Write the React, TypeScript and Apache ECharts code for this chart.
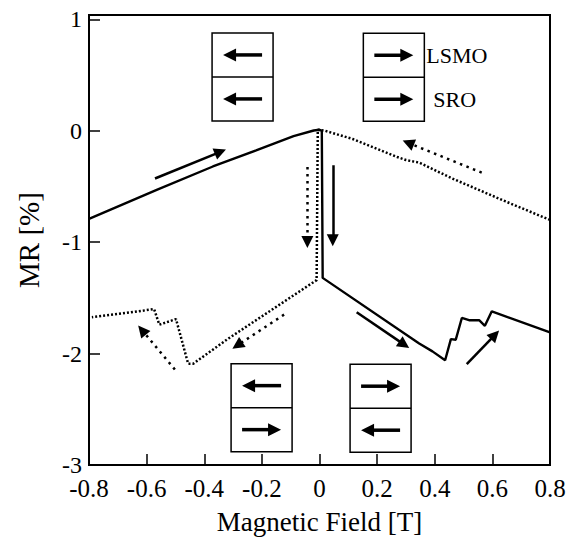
import React, { useEffect, useRef } from "react";
import * as echarts from "echarts";

// Field sweep from -0.8 T to +0.8 T (solid curve): [field T, MR %]
const solidSweep: [number, number][] = [
  [-0.8, -0.79], [-0.565, -0.53], [-0.37, -0.32], [-0.22, -0.175], [-0.09, -0.047],
  [-0.02, 0.003], [0.0, 0.01], [0.008, 0.0], [0.011, -1.32], [0.346, -1.91],
  [0.392, -1.98], [0.436, -2.06], [0.456, -1.87], [0.473, -1.875], [0.494, -1.68],
  [0.519, -1.7], [0.554, -1.7], [0.574, -1.75], [0.598, -1.62], [0.8, -1.81],
];

// Field sweep from +0.8 T to -0.8 T (dotted curve)
const dottedSweep: [number, number][] = [
  [0.8, -0.8], [0.646, -0.634], [0.46, -0.427], [0.346, -0.285], [0.3, -0.262],
  [0.27, -0.235], [0.115, -0.073], [0.02, 0.0], [-0.006, 0.01], [-0.01, -1.34],
  [-0.317, -1.866], [-0.438, -2.09], [-0.456, -2.09], [-0.498, -1.69], [-0.556, -1.74],
  [-0.574, -1.6], [-0.657, -1.63], [-0.79, -1.673],
];

// Sweep-direction arrows: [x0, y0, x1, y1]
const solidArrows: number[][] = [
  [-0.571, -0.428, -0.344, -0.188],
  [0.046, -0.31, 0.046, -0.982],
  [0.129, -1.629, 0.294, -1.919],
  [0.511, -2.095, 0.609, -1.831],
];
const dottedArrows: number[][] = [
  [0.563, -0.375, 0.308, -0.108],
  [-0.042, -0.324, -0.042, -0.997],
  [-0.123, -1.65, -0.285, -1.926],
  [-0.502, -2.143, -0.616, -1.789],
];

// Magnetization configuration boxes: centre, LSMO (top) and SRO (bottom) directions
const boxCenters: [number, number][] = [
  [-0.267, 0.484], [0.258, 0.481], [-0.201, -2.485], [0.212, -2.49],
];
const lsmoDir = [-1, 1, -1, 1];
const sroDir = [-1, 1, 1, -1];
const layerLabels = ["LSMO", "SRO"];
const labelBoxIndex = 1;

const FONT = "Times New Roman, Liberation Serif, DejaVu Serif, serif";

export default function App() {
  const ref = useRef<HTMLDivElement>(null);
  useEffect(() => {
    if (!ref.current) return;
    const chart = echarts.init(ref.current, undefined, { renderer: "svg" });
    const axisCommon = {
      type: "value" as const,
      axisLine: { show: true, onZero: false, lineStyle: { color: "#000", width: 2 } },
      axisTick: { show: true, inside: true, length: 11, lineStyle: { color: "#000", width: 1.5 } },
      splitLine: { show: false },
      nameLocation: "middle" as const,
    };
    chart.setOption({
      animation: false,
      backgroundColor: "#fff",
      textStyle: { fontFamily: FONT },
      grid: { left: 89, right: 25, top: 15, bottom: 71, show: true, borderColor: "#000", borderWidth: 2 },
      xAxis: {
        ...axisCommon,
        min: -0.8, max: 0.8, interval: 0.2,
        name: "Magnetic Field [T]", nameGap: 43,
        nameTextStyle: { color: "#000", fontSize: 27, fontFamily: FONT },
        axisLabel: { color: "#000", fontSize: 25, fontFamily: FONT, margin: 11 },
      },
      yAxis: {
        ...axisCommon,
        min: -3, max: 1.04, interval: 1,
        name: "MR [%]", nameGap: 46,
        nameTextStyle: { color: "#000", fontSize: 29, fontFamily: FONT },
        axisLabel: {
          color: "#000", fontSize: 24, fontFamily: FONT, margin: 7,
          formatter: (v: number) => (Math.abs(v - Math.round(v)) < 1e-6 ? String(Math.round(v)) : ""),
        },
      },
      series: [
        {
          type: "line", data: solidSweep, symbol: "none", silent: true,
          lineStyle: { color: "#000", width: 2.4 }, z: 3,
        },
        {
          type: "line", data: dottedSweep, symbol: "none", silent: true,
          lineStyle: { color: "#000", width: 2.5, type: [2, 2] }, z: 3,
        },
        {
          type: "lines", coordinateSystem: "cartesian2d", silent: true,
          data: solidArrows.map((a) => ({ coords: [[a[0], a[1]], [a[2], a[3]]] })),
          symbol: ["none", "triangle"], symbolSize: 12,
          itemStyle: { color: "#000" },
          lineStyle: { color: "#000", width: 2.5, type: "solid", opacity: 1, curveness: 0 },
          z: 4,
        },
        {
          type: "lines", coordinateSystem: "cartesian2d", silent: true,
          data: dottedArrows.map((a) => ({ coords: [[a[0], a[1]], [a[2], a[3]]] })),
          symbol: ["none", "triangle"], symbolSize: 12,
          itemStyle: { color: "#000" },
          lineStyle: { color: "#000", width: 2.5, type: [2.5, 4.5], opacity: 1, curveness: 0 },
          z: 4,
        },
      ],
    });

    const W = 61, H = 88;
    const arrowEls = (dir: number, cy: number) => {
      const tip = dir * 19.5;
      const base = tip - dir * 13;
      const tail = -dir * 19.5;
      return [
        { type: "line", shape: { x1: tail, y1: cy, x2: base + dir * 1, y2: cy }, style: { stroke: "#000", lineWidth: 3.5 } },
        { type: "polygon", shape: { points: [[tip, cy], [base, cy - 6.5], [base, cy + 6.5]] }, style: { fill: "#000" } },
      ];
    };
    const graphics: any[] = boxCenters.map((c, i) => {
      const p = chart.convertToPixel({ gridIndex: 0 }, c) as number[];
      const children: any[] = [
        { type: "rect", shape: { x: -W / 2, y: -H / 2, width: W, height: H }, style: { fill: "#fff", stroke: "#000", lineWidth: 1.5 } },
        { type: "line", shape: { x1: -W / 2, y1: 0, x2: W / 2, y2: 0 }, style: { stroke: "#000", lineWidth: 1.5 } },
        ...arrowEls(lsmoDir[i], -H / 4),
        ...arrowEls(sroDir[i], H / 4),
      ];
      if (i === labelBoxIndex) {
        children.push(
          { type: "text", style: { text: layerLabels[0], x: W / 2 + 2, y: -H / 4, fontSize: 22, fontFamily: FONT, fill: "#000", align: "left", verticalAlign: "middle" } },
          { type: "text", style: { text: layerLabels[1], x: W / 2 + 9, y: H / 4, fontSize: 22, fontFamily: FONT, fill: "#000", align: "left", verticalAlign: "middle" } },
        );
      }
      return { type: "group", x: p[0], y: p[1], z: 10, children };
    });
    chart.setOption({ graphic: graphics });

    return () => chart.dispose();
  }, []);
  return (
    <div
      ref={ref}
      style={{ position: "absolute", left: 0, top: 0, width: 575, height: 540 }}
    />
  );
}
